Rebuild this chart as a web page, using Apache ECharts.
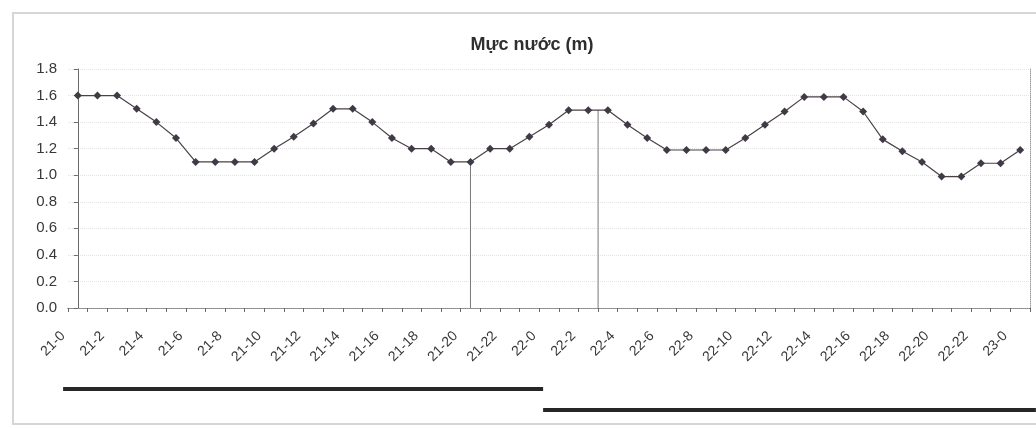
<!DOCTYPE html>
<html>
<head>
<meta charset="utf-8">
<script src="https://cdn.jsdelivr.net/npm/echarts@6/dist/echarts.min.js"></script>
<style>
  html, body { margin: 0; padding: 0; background: #ffffff; }
  #chart { width: 1036px; height: 429px; }
</style>
</head>
<body>
<div id="chart"></div>
<script>
// Hourly water level (m) from day 21, hour 0 to day 23, hour 0
const hours21 = ['21-0','21-1','21-2','21-3','21-4','21-5','21-6','21-7','21-8','21-9','21-10','21-11',
                 '21-12','21-13','21-14','21-15','21-16','21-17','21-18','21-19','21-20','21-21','21-22','21-23'];
const hours22 = ['22-0','22-1','22-2','22-3','22-4','22-5','22-6','22-7','22-8','22-9','22-10','22-11',
                 '22-12','22-13','22-14','22-15','22-16','22-17','22-18','22-19','22-20','22-21','22-22','22-23'];
const hours23 = ['23-0'];

const level21 = [1.60, 1.60, 1.60, 1.50, 1.40, 1.28, 1.10, 1.10, 1.10, 1.10, 1.20, 1.29,
                 1.39, 1.50, 1.50, 1.40, 1.28, 1.20, 1.20, 1.10, 1.10, 1.20, 1.20, 1.29];
const level22 = [1.38, 1.49, 1.49, 1.49, 1.38, 1.28, 1.19, 1.19, 1.19, 1.19, 1.28, 1.38,
                 1.48, 1.59, 1.59, 1.59, 1.48, 1.27, 1.18, 1.10, 0.99, 0.99, 1.09, 1.09];
const level23 = [1.19];

// Vertical guide lines: category position (hour index) and the level they rise to
const guidePos = [20, 26.5];
const guideLevel = [1.10, 1.49];

// Horizontal day bars under the axis, in hour-index units
const dayBars = [[-0.75, 23.7], [23.7, 48.8]];

const yTicks = [0, 0.2, 0.4, 0.6, 0.8, 1.0, 1.2, 1.4, 1.6, 1.8];

const categories = hours21.concat(hours22, hours23);
const levels = level21.concat(level22, level23);

const FONT = 'Arial, "Liberation Sans", sans-serif';
const chart = echarts.init(document.getElementById('chart'), null, { renderer: 'canvas' });

const guideSeries = guidePos.map((p, i) => ({
  type: 'line',
  xAxisIndex: 1,
  yAxisIndex: 0,
  data: [[p, 0], [p, guideLevel[i]]],
  symbol: 'none',
  silent: true,
  z: 1,
  lineStyle: { color: '#7a7a7a', width: 1 }
}));

chart.setOption({
  animation: false,
  backgroundColor: '#ffffff',
  textStyle: { fontFamily: FONT },
  grid: { left: 68, right: 6, top: 69, bottom: 121 },
  xAxis: [
    {
      type: 'category',
      data: categories,
      boundaryGap: true,
      position: 'bottom',
      axisLine: { show: true, lineStyle: { color: '#6a6a6a', width: 1 } },
      axisTick: { show: true, interval: 0, length: 4, lineStyle: { color: '#6a6a6a' } },
      axisLabel: {
        interval: 1,
        rotate: 45,
        margin: 11,
        padding: [0, 21, 0, 0],
        color: '#383838',
        fontSize: 14,
        fontFamily: FONT
      },
      splitLine: { show: false }
    },
    {
      type: 'value',
      min: -0.5,
      max: 48.5,
      position: 'top',
      axisLine: { show: true, lineStyle: { color: '#9a9a9a', type: 'dotted', width: 1 } },
      axisTick: { show: false },
      axisLabel: { show: false },
      splitLine: { show: false }
    }
  ],
  yAxis: [
    {
      type: 'value',
      min: yTicks[0],
      max: yTicks[yTicks.length - 1],
      interval: 0.2,
      axisLine: { show: true, lineStyle: { color: '#6a6a6a', width: 1 } },
      axisTick: { show: true, length: 4, lineStyle: { color: '#6a6a6a' } },
      axisLabel: {
        margin: 11,
        color: '#383838',
        fontSize: 15,
        fontFamily: FONT,
        formatter: v => v.toFixed(1)
      },
      splitLine: { show: true, lineStyle: { color: '#e4e4e4', type: 'dotted', width: 1 } }
    },
    {
      type: 'value',
      min: yTicks[0],
      max: yTicks[yTicks.length - 1],
      position: 'right',
      axisLine: { show: true, lineStyle: { color: '#a0a0a0', type: 'dotted', width: 1 } },
      axisTick: { show: false },
      axisLabel: { show: false },
      splitLine: { show: false }
    }
  ],
  series: [
    {
      name: 'Mực nước',
      type: 'line',
      xAxisIndex: 0,
      yAxisIndex: 0,
      data: levels,
      symbol: 'diamond',
      symbolSize: 8,
      z: 3,
      lineStyle: { color: '#4a4046', width: 1.2 },
      itemStyle: { color: '#3f3a46' }
    }
  ].concat(guideSeries)
});

// Frame, title and the day bars beneath the axis labels
const toX = v => chart.convertToPixel({ xAxisIndex: 1 }, v);
const barRows = [389, 410];
chart.setOption({
  graphic: [
    {
      type: 'rect',
      shape: { x: 13, y: 13, width: 1040, height: 411 },
      style: { fill: 'none', stroke: '#d6d6d6', lineWidth: 2 },
      silent: true
    },
    {
      type: 'text',
      x: 532,
      y: 45,
      style: {
        text: 'Mực nước (m)',
        font: 'bold 18px ' + FONT,
        fill: '#2e2e2e',
        align: 'center',
        verticalAlign: 'middle'
      }
    }
  ].concat(dayBars.map((b, i) => ({
    type: 'line',
    shape: { x1: toX(b[0]), y1: barRows[i], x2: toX(b[1]), y2: barRows[i] },
    style: { stroke: '#262626', lineWidth: 4 },
    silent: true
  })))
});
</script>
</body>
</html>
